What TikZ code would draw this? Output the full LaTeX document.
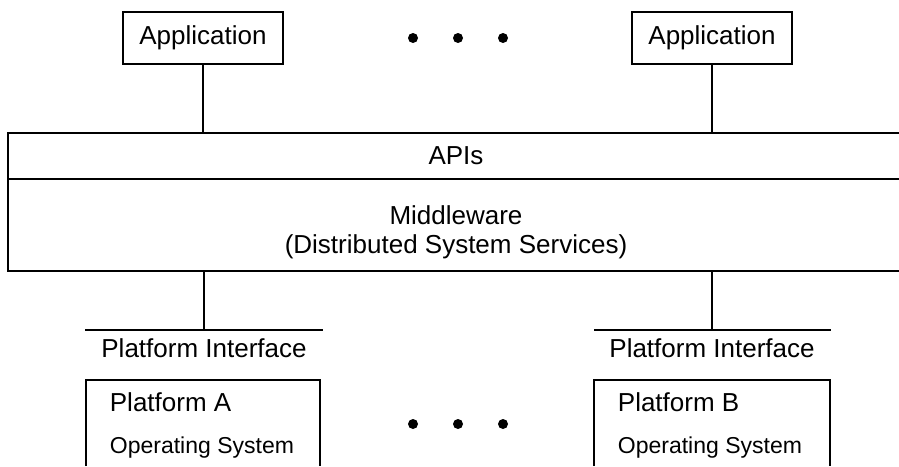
\documentclass[tikz,border=0pt]{standalone}
\usepackage{fontspec}
\setmainfont{Liberation Sans}
\usetikzlibrary{positioning}
\newcommand{\bulletsize}{10pt}
\newcommand{\osfont}{\fontsize{23}{27}\selectfont}

\begin{document}
\begin{tikzpicture}[x=1pt,y=-1pt,line width=1.8pt,
  every node/.style={font=\fontsize{26}{30}\selectfont},
  box/.style={draw, rectangle, inner sep=0pt, minimum height=52pt},
  bullet/.style={circle, fill, inner sep=0pt, minimum size=\bulletsize}]

        \useasboundingbox (0,0) rectangle (899,466);

          % applications
        \node (app1) at (203,38)  [box, minimum width=160pt] {Application};
        \node (app2) at (712,38)  [box, minimum width=160pt] {Application};
        \node (ta) at (413,38)  [bullet] {};
        \node (tb) at (458,38)  [bullet] {};
        \node (tc) at (503,38)  [bullet] {};

          % APIs / middleware band (open on the right)
        \coordinate (bandnw) at (8,133);
        \coordinate (bandne) at (899,133);
        \coordinate (bandw) at (8,179);
        \coordinate (bande) at (899,179);
        \coordinate (bandsw) at (8,271);
        \coordinate (bandse) at (899,271);
        \draw (bandne) -- (bandnw) -- (bandsw) -- (bandse);
        \draw (bandw) -- (bande);

        \node (apis) at (456,156) {APIs};
        \node (mw) at (456,224) [anchor=base] {Middleware};
        \node (dss) at (456,253) [anchor=base] {(Distributed System Services)};

        \draw (app1.south) -- (app1.south |- bandnw);
        \draw (app2.south) -- (app2.south |- bandnw);

          % platform interfaces
        \coordinate (pia) at (204,330);
        \coordinate (piaw) at (85,330);
        \coordinate (piae) at (323,330);
        \coordinate (pib) at (712,330);
        \coordinate (pibw) at (594,330);
        \coordinate (pibe) at (831,330);
        \draw (pia |- bandsw) -- (pia);
        \draw (pib |- bandsw) -- (pib);
        \draw (piaw) -- (piae);
        \draw (pibw) -- (pibe);
        \node (pifa) at (204,357) [anchor=base] {Platform Interface};
        \node (pifb) at (712,357) [anchor=base] {Platform Interface};

          % platforms (open at the bottom)
        \draw (86,466) -- (86,380) -- (320,380) -- (320,466);
        \draw (594,466) -- (594,380) -- (830,380) -- (830,466);
        \node (pa) at (109,411) [anchor=base west, inner sep=0pt] {Platform A};
        \node (osa) at (109,453) [anchor=base west, inner sep=0pt, font=\osfont] {Operating System};
        \node (pb) at (617,411) [anchor=base west, inner sep=0pt] {Platform B};
        \node (osb) at (617,453) [anchor=base west, inner sep=0pt, font=\osfont] {Operating System};
        \node (ba) at (413,424)  [bullet] {};
        \node (bb) at (458,424)  [bullet] {};
        \node (bc) at (503,424)  [bullet] {};

        \end{tikzpicture}
\end{document}
